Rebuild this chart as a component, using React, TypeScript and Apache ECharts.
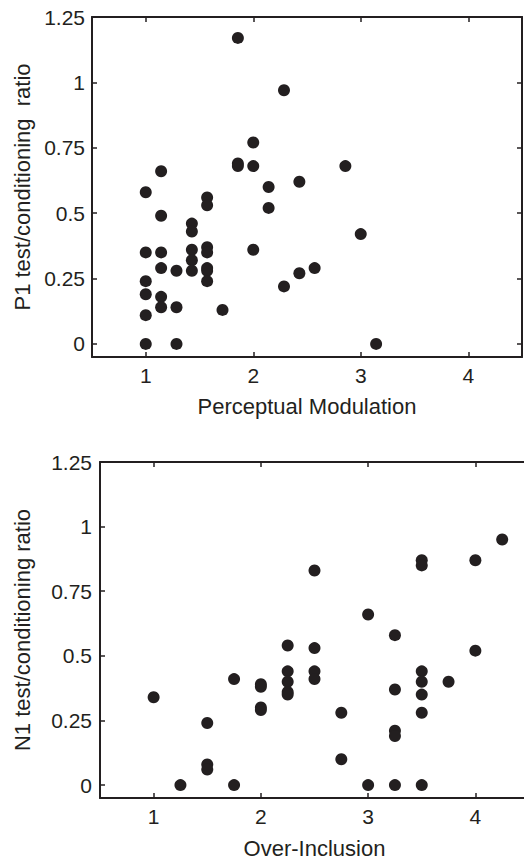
import React, { useEffect, useRef } from "react";
import * as echarts from "echarts";

// Tick values shared by both panels
const yTickValues = [0, 0.25, 0.5, 0.75, 1, 1.25];
const xTickValues = [1, 2, 3, 4];

// Top panel: Perceptual Modulation vs P1 test/conditioning ratio
const perceptualModulation = [
  1, 1, 1, 1, 1, 1,
  1.143, 1.143, 1.143, 1.143, 1.143, 1.143,
  1.286, 1.286, 1.286,
  1.429, 1.429, 1.429, 1.429, 1.429,
  1.571, 1.571, 1.571, 1.571, 1.571, 1.571, 1.571,
  1.714,
  1.857, 1.857, 1.857,
  2, 2, 2,
  2.143, 2.143,
  2.286, 2.286,
  2.429, 2.429,
  2.571,
  2.857,
  3,
  3.143,
];
const p1Ratio = [
  0.58, 0.35, 0.24, 0.19, 0.11, 0,
  0.66, 0.49, 0.35, 0.29, 0.18, 0.14,
  0.28, 0.14, 0,
  0.46, 0.43, 0.36, 0.32, 0.28,
  0.56, 0.53, 0.37, 0.35, 0.29, 0.28, 0.24,
  0.13,
  1.17, 0.69, 0.68,
  0.77, 0.68, 0.36,
  0.6, 0.52,
  0.97, 0.22,
  0.62, 0.27,
  0.29,
  0.68,
  0.42,
  0,
];

// Bottom panel: Over-Inclusion vs N1 test/conditioning ratio
const overInclusion = [
  1,
  1.25,
  1.5, 1.5, 1.5,
  1.75, 1.75,
  2, 2, 2, 2,
  2.25, 2.25, 2.25, 2.25, 2.25,
  2.5, 2.5, 2.5, 2.5,
  2.75, 2.75,
  3, 3,
  3.25, 3.25, 3.25, 3.25, 3.25,
  3.5, 3.5, 3.5, 3.5, 3.5, 3.5, 3.5,
  3.75,
  4, 4,
  4.25,
];
const n1Ratio = [
  0.34,
  0,
  0.24, 0.08, 0.06,
  0.41, 0,
  0.39, 0.38, 0.3, 0.29,
  0.54, 0.44, 0.4, 0.36, 0.35,
  0.83, 0.53, 0.44, 0.41,
  0.28, 0.1,
  0.66, 0,
  0.58, 0.37, 0.21, 0.19, 0,
  0.87, 0.85, 0.44, 0.4, 0.35, 0.28, 0,
  0.4,
  0.87, 0.52,
  0.95,
];

const INK = "#231f20";
const FONT = "'Liberation Sans', Arial, Helvetica, sans-serif";

function pairs(xs: number[], ys: number[]) {
  return xs.map((x, i) => [x, ys[i]]);
}

function xAxisDef(gridIndex: number, position: "bottom" | "top", name: string, gap: number) {
  const main = position === "bottom";
  return {
    type: "value",
    gridIndex,
    position,
    min: 0.5,
    max: 4.5,
    name: main ? name : "",
    nameLocation: "middle",
    nameGap: gap,
    nameTextStyle: { color: INK, fontSize: 22, fontFamily: FONT },
    axisLine: { show: true, onZero: false, lineStyle: { color: INK, width: 2 } },
    axisTick: {
      show: true,
      inside: true,
      length: 5,
      customValues: xTickValues,
      lineStyle: { color: INK, width: 1.5 },
    },
    axisLabel: {
      show: main,
      customValues: xTickValues,
      margin: 8,
      color: INK,
      fontSize: 21,
      fontFamily: FONT,
    },
    splitLine: { show: false },
  };
}

function yAxisDef(gridIndex: number, position: "left" | "right", name: string, gap: number, labelMargin: number) {
  const main = position === "left";
  return {
    type: "value",
    gridIndex,
    position,
    min: -0.05,
    max: 1.25,
    name: main ? name : "",
    nameLocation: "middle",
    nameGap: gap,
    nameTextStyle: { color: INK, fontSize: 22, fontFamily: FONT },
    axisLine: { show: true, onZero: false, lineStyle: { color: INK, width: 2 } },
    axisTick: {
      show: true,
      inside: true,
      length: 5,
      customValues: yTickValues,
      lineStyle: { color: INK, width: 1.5 },
    },
    axisLabel: {
      show: main,
      customValues: yTickValues,
      margin: labelMargin,
      color: INK,
      fontSize: 21,
      fontFamily: FONT,
    },
    splitLine: { show: false },
  };
}

export default function App() {
  const ref = useRef<HTMLDivElement>(null);

  useEffect(() => {
    if (!ref.current) return;
    const chart = echarts.init(ref.current, undefined, { renderer: "svg" });
    chart.setOption({
      animation: false,
      backgroundColor: "#ffffff",
      textStyle: { fontFamily: FONT },
      grid: [
        { left: 92, top: 17, width: 430, height: 340, outerBoundsMode: "none", containLabel: false },
        { left: 100, top: 462, width: 429, height: 336, outerBoundsMode: "none", containLabel: false },
      ],
      xAxis: [
        xAxisDef(0, "bottom", "Perceptual Modulation", 38),
        xAxisDef(0, "top", "", 0),
        xAxisDef(1, "bottom", "Over-Inclusion", 39),
        xAxisDef(1, "top", "", 0),
      ],
      yAxis: [
        yAxisDef(0, "left", "P1 test/conditioning  ratio", 59, 7),
        yAxisDef(0, "right", "", 0, 7),
        yAxisDef(1, "left", "N1 test/conditioning ratio", 67, 8),
        yAxisDef(1, "right", "", 0, 8),
      ],
      series: [
        {
          type: "scatter",
          xAxisIndex: 0,
          yAxisIndex: 0,
          symbol: "circle",
          symbolSize: 12,
          itemStyle: { color: INK, opacity: 1 },
          data: pairs(perceptualModulation, p1Ratio),
        },
        {
          type: "scatter",
          xAxisIndex: 2,
          yAxisIndex: 2,
          symbol: "circle",
          symbolSize: 12,
          itemStyle: { color: INK, opacity: 1 },
          data: pairs(overInclusion, n1Ratio),
        },
      ],
    });
    return () => chart.dispose();
  }, []);

  return (
    <div
      ref={ref}
      style={{ position: "fixed", left: 0, top: 0, width: 524, height: 860, background: "#fff" }}
    />
  );
}
